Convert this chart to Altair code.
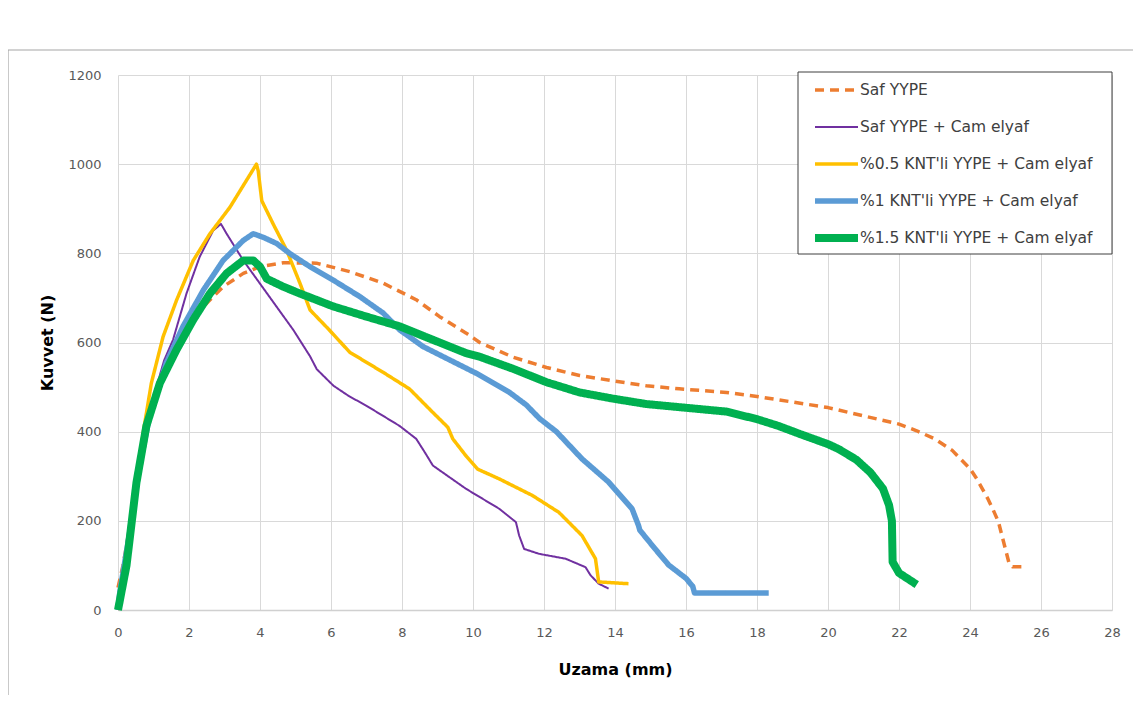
import altair as alt
import pandas as pd

series = [
    "Saf YYPE",
    "Saf YYPE + Cam elyaf",
    "%0.5 KNT'li YYPE + Cam elyaf",
    "%1 KNT'li YYPE + Cam elyaf",
    "%1.5 KNT'li YYPE + Cam elyaf",
]
colors = ["#ED7D31", "#7030A0", "#FFC000", "#5B9BD5", "#00B050"]
widths = [3.5, 2, 3.5, 5.5, 8]
dashes = [[9, 6], [1, 0], [1, 0], [1, 0], [1, 0]]

saf_x = [0, 0.14, 0.4, 0.8, 1.2, 1.65, 2.02, 2.4, 2.96, 3.53, 4.0, 4.66, 5.59, 6.53, 7.47, 8.4,
         9.06, 9.81, 10.19, 11.13, 12.07, 13.0, 13.95, 14.88, 15.81, 17.14, 18.0, 20.0, 22.0,
         22.5, 23.0, 23.5, 24.0, 24.2, 24.5, 24.65, 24.8, 25.1, 25.2, 25.6]
saf_y = [50, 100, 215, 400, 515, 599, 643, 680, 725, 755, 770, 779, 778, 759, 733, 696,
         658, 621, 600, 567, 544, 526, 514, 503, 496, 488, 479, 454, 417,
         402, 384, 358, 317, 293, 250, 225, 198, 105, 97, 97]

cam_x = [0, 0.3, 0.6, 0.9, 1.3, 1.55, 1.93, 2.3, 2.68, 2.9, 3.06, 3.53, 4.0, 4.47, 4.94, 5.41,
         5.6, 6.07, 6.5, 7.0, 7.93, 8.4, 8.64, 8.87, 9.8, 10.74, 11.21, 11.3, 11.44, 11.86,
         12.61, 13.17, 13.31, 13.54, 13.82]
cam_y = [0, 170, 330, 450, 560, 606, 710, 792, 851, 866, 844, 784, 732, 680, 628, 569,
         540, 503, 480, 458, 413, 384, 354, 324, 272, 227, 197, 167, 137, 126,
         115, 96, 78, 59, 48]

k05_x = [0, 0.33, 0.52, 0.71, 0.94, 1.27, 1.65, 2.12, 2.59, 3.15, 3.9, 3.95, 4.05, 4.37, 4.75,
         5.13, 5.41, 5.93, 6.53, 7.47, 8.21, 8.87, 9.29, 9.43, 9.8, 10.13, 10.74, 11.67, 12.42,
         13.07, 13.45, 13.54, 14.38]
k05_y = [0, 138, 286, 398, 509, 613, 695, 784, 844, 903, 1000, 985, 918, 866, 807,
         732, 673, 630, 578, 533, 496, 443, 410, 384, 346, 316, 294, 257, 219,
         167, 115, 63, 59]

k1_x = [0, 0.05, 0.33, 0.61, 0.89, 1.36, 1.83, 2.4, 2.96, 3.53, 3.81, 4.09, 4.47, 4.85, 5.41,
        6.06, 6.81, 7.47, 7.94, 8.59, 9.34, 10.09, 10.75, 11.03, 11.5, 11.88, 12.35, 13.07,
        13.82, 14.48, 14.66, 14.7, 15.12, 15.51, 16.0, 16.19, 16.24, 18.33]
k1_y = [0, 40, 175, 323, 435, 554, 636, 717, 784, 829, 844, 836, 822, 799, 770,
        740, 703, 666, 628, 591, 561, 531, 501, 488, 460, 429, 400, 339,
        287, 227, 190, 179, 138, 101, 71, 53, 38, 38]

k15_x = [0, 0.24, 0.52, 0.8, 1.18, 1.65, 2.12, 2.59, 3.06, 3.53, 3.81, 4.0, 4.19, 4.66, 5.12,
         6.06, 7.0, 7.94, 8.87, 9.81, 10.19, 11.13, 12.07, 13.0, 13.95, 14.88, 15.81, 17.14,
         18.0, 18.6, 19.2, 20.0, 20.3, 20.8, 21.2, 21.55, 21.72, 21.8, 21.82, 22.0, 22.5]
k15_y = [0, 100, 286, 413, 509, 584, 651, 710, 755, 784, 784, 770, 743, 725, 710,
         681, 658, 636, 606, 576, 568, 541, 511, 488, 474, 462, 455, 445,
         428, 413, 395, 372, 361, 337, 308, 272, 235, 200, 108, 83, 57]

x_ticks = list(range(0, 29, 2))
y_ticks = list(range(0, 1201, 200))

xs = [saf_x, cam_x, k05_x, k1_x, k15_x]
ys = [saf_y, cam_y, k05_y, k1_y, k15_y]

rows = []
for name, sx, sy in zip(series, xs, ys):
    for i, (a, b) in enumerate(zip(sx, sy)):
        rows.append({"series": name, "x": a, "y": b, "i": i})
df = pd.DataFrame(rows)
leg_df = pd.DataFrame({"series": series})

FONT = "DejaVu Sans"

color_enc = alt.Color("series:N", scale=alt.Scale(domain=series, range=colors), legend=None)
dash_enc = alt.StrokeDash("series:N", scale=alt.Scale(type="ordinal", domain=series, range=dashes), legend=None)
width_enc = alt.StrokeWidth("series:N", scale=alt.Scale(type="ordinal", domain=series, range=widths), legend=None)

lines = []
for name in series:
    lines.append(
        alt.Chart(df[df["series"] == name]).mark_line(
            strokeCap="butt", strokeJoin="round"
        ).encode(
            x=alt.X("x:Q", scale=alt.Scale(domain=[0, 28], nice=False),
                    axis=alt.Axis(values=x_ticks, title="Uzama (mm)", format="d")),
            y=alt.Y("y:Q", scale=alt.Scale(domain=[0, 1200], nice=False),
                    axis=alt.Axis(values=y_ticks, title="Kuvvet (N)", format="d")),
            color=color_enc, strokeDash=dash_enc, strokeWidth=width_enc,
            order=alt.Order("i:Q"),
        )
    )
main = alt.layer(*lines)

leg_y = alt.Y("series:N", scale=alt.Scale(type="point", domain=series, range=[15, 163], padding=0), axis=None)

frame = alt.Chart(leg_df.head(1)).mark_rect(
    fill="transparent", stroke="#a6a6a6", strokeWidth=1.2
).encode(x=alt.value(-110), x2=alt.value(1040), y=alt.value(-25), y2=alt.value(700))

leg_box = alt.Chart(leg_df.head(1)).mark_rect(
    fill="white", stroke="#3f3f3f", strokeWidth=1
).encode(x=alt.value(680), x2=alt.value(994), y=alt.value(-3), y2=alt.value(179))

leg_rules = alt.Chart(leg_df).mark_rule(strokeCap="butt").encode(
    y=leg_y, x=alt.value(697), x2=alt.value(740),
    color=color_enc, strokeDash=dash_enc, strokeWidth=width_enc,
)
leg_text = alt.Chart(leg_df).mark_text(
    align="left", baseline="middle", font=FONT, fontSize=15.5, color="#404040"
).encode(y=leg_y, x=alt.value(742), text="series:N")

legend = alt.layer(frame, leg_box, leg_rules, leg_text)

chart = alt.layer(main, legend).resolve_scale(y="independent").properties(
    width=994, height=535,
    autosize=alt.AutoSizeParams(type="none"),
    padding={"left": 110, "top": 67, "right": 21, "bottom": 85},
).configure_view(stroke=None).configure_axis(
    grid=True, gridColor="#d9d9d9", gridWidth=1, ticks=False, labelFlush=False,
    labelFont=FONT, labelFontSize=13, labelColor="#595959",
    titleFont=FONT, titleFontSize=16, titleFontWeight="bold", titleColor="#000000",
    domain=False,
).configure_axisX(
    domain=True, domainColor="#d0d0d0", domainWidth=1.5, labelPadding=16, titlePadding=22,
).configure_axisY(
    labelPadding=17, titlePadding=12,
)

chart.save("out.html", embed_options={"renderer": "svg", "actions": False})
